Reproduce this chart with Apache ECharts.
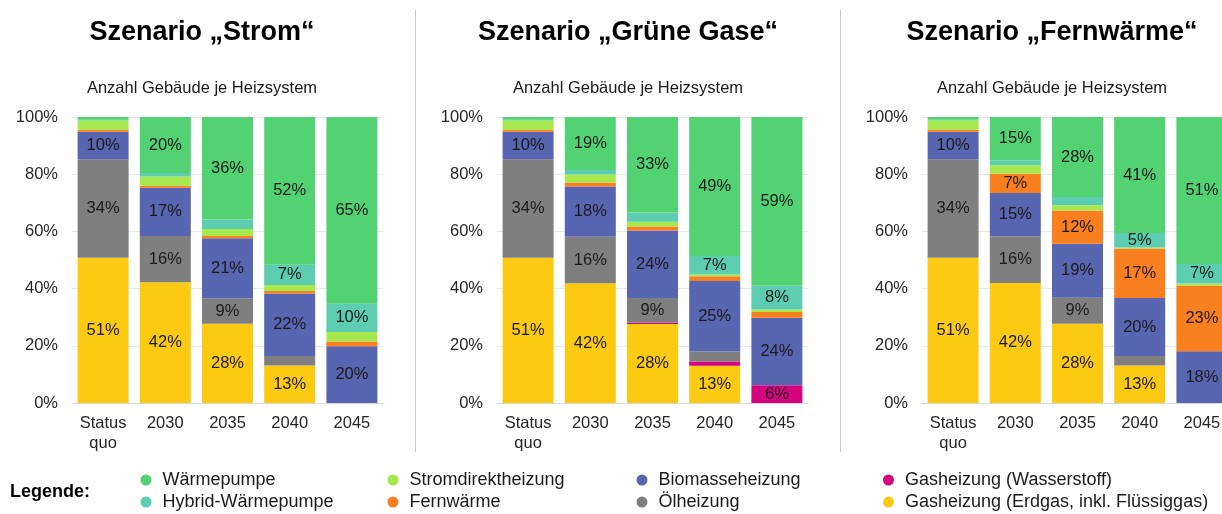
<!DOCTYPE html>
<html>
<head>
<meta charset="utf-8">
<script src="https://cdn.jsdelivr.net/npm/echarts@6/dist/echarts.min.js"></script>
<style>
html,body{margin:0;padding:0;background:#fff;}
#chart{width:1222px;height:514px;}
</style>
</head>
<body>
<div id="chart"></div>
<script>
// ---- data ----
const categories = ['Status\nquo', '2030', '2035', '2040', '2045'];
const yTicks = [0, 20, 40, 60, 80, 100];
const scenarioTitles = ['Szenario \u201EStrom\u201C', 'Szenario \u201EGr\u00FCne Gase\u201C', 'Szenario \u201EFernw\u00E4rme\u201C'];
const subTitle = 'Anzahl Geb\u00E4ude je Heizsystem';
// stack order bottom -> top
const seriesNames = ['Gasheizung (Erdgas, inkl. Fl\u00FCssiggas)', 'Gasheizung (Wasserstoff)', '\u00D6lheizung', 'Biomasseheizung', 'Fernw\u00E4rme', 'Stromdirektheizung', 'Hybrid-W\u00E4rmepumpe', 'W\u00E4rmepumpe'];

// Szenario Strom
const strom_gasErdgas     = [50.8, 42.2, 27.7, 13.1, 0];
const strom_gasH2         = [0, 0, 0, 0, 0];
const strom_oel           = [34.4, 16.2, 8.8, 3.3, 0];
const strom_biomasse      = [9.6, 16.9, 21.1, 21.9, 19.8];
const strom_fernwaerme    = [0.7, 0.7, 0.8, 0.9, 1.7];
const strom_stromdirekt   = [3.3, 3.2, 2.4, 2.1, 3.3];
const strom_hybrid        = [0.2, 1.2, 3.4, 7.0, 9.9];
const strom_waermepumpe   = [1.0, 19.6, 35.8, 51.7, 65.3];

// Szenario Grüne Gase
const gruen_gasErdgas     = [50.8, 41.9, 27.6, 13.0, 0];
const gruen_gasH2         = [0, 0, 0.5, 1.5, 6.2];
const gruen_oel           = [34.4, 16.2, 8.6, 3.5, 0];
const gruen_biomasse      = [9.6, 17.6, 23.6, 24.7, 23.6];
const gruen_fernwaerme    = [0.7, 1.4, 1.4, 1.6, 2.0];
const gruen_stromdirekt   = [3.3, 2.8, 1.7, 0.6, 0.9];
const gruen_hybrid        = [0.2, 1.6, 3.2, 6.5, 8.3];
const gruen_waermepumpe   = [1.0, 18.5, 33.4, 48.6, 59.0];

// Szenario Fernwärme
const fern_gasErdgas      = [50.8, 42.0, 27.7, 13.1, 0];
const fern_gasH2          = [0, 0, 0, 0, 0];
const fern_oel            = [34.4, 16.3, 9.1, 3.3, 0];
const fern_biomasse       = [9.6, 15.1, 18.9, 20.3, 18.1];
const fern_fernwaerme     = [0.7, 6.8, 11.6, 17.3, 23.0];
const fern_stromdirekt    = [3.3, 2.9, 1.8, 0.4, 0.7];
const fern_hybrid         = [0.2, 1.7, 2.9, 5.0, 6.8];
const fern_waermepumpe    = [1.0, 15.2, 28.0, 40.6, 51.4];

const scenarios = [
  [strom_gasErdgas, strom_gasH2, strom_oel, strom_biomasse, strom_fernwaerme, strom_stromdirekt, strom_hybrid, strom_waermepumpe],
  [gruen_gasErdgas, gruen_gasH2, gruen_oel, gruen_biomasse, gruen_fernwaerme, gruen_stromdirekt, gruen_hybrid, gruen_waermepumpe],
  [fern_gasErdgas, fern_gasH2, fern_oel, fern_biomasse, fern_fernwaerme, fern_stromdirekt, fern_hybrid, fern_waermepumpe]
];

// ---- styling ----
const colors = ['#fdca13', '#d6037f', '#7f7f7f', '#5865b0', '#fa7f1e', '#a7e84c', '#5ccdb0', '#52d273'];
const FONT = "'Liberation Sans', Arial, sans-serif";
const gridLefts = [72, 497, 922];
const centers = [202, 628, 1052];

const grids = gridLefts.map(l => ({left: l, top: 117, width: 311, height: 286, containLabel: false, outerBoundsMode: 'none'}));
const xAxes = gridLefts.map((l, i) => ({
  type: 'category', gridIndex: i, data: categories,
  axisTick: {show: false},
  axisLine: {show: true, lineStyle: {color: '#d9d9d9', width: 1}},
  axisLabel: {fontFamily: FONT, fontSize: 16.5, color: '#262626', margin: 10, lineHeight: 20, interval: 0}
}));
const yAxes = gridLefts.map((l, i) => ({
  type: 'value', gridIndex: i, min: yTicks[0], max: yTicks[yTicks.length - 1], interval: 20,
  axisLine: {show: false}, axisTick: {show: false},
  splitLine: {lineStyle: {color: '#e8e8e8', width: 1}},
  axisLabel: {fontFamily: FONT, fontSize: 16.5, color: '#262626', margin: 14, formatter: '{value}%'}
}));

const series = [];
scenarios.forEach((sc, gi) => {
  sc.forEach((vals, si) => {
    series.push({
      type: 'bar', name: seriesNames[si], stack: 'p' + gi,
      xAxisIndex: gi, yAxisIndex: gi,
      barCategoryGap: '18%',
      data: vals,
      itemStyle: {color: colors[si]},
      label: {
        show: true, position: 'inside', fontFamily: FONT, fontSize: 16.5, color: '#1a1a1a',
        formatter: p => p.value >= 4.5 ? Math.round(p.value) + '%' : ''
      },
      emphasis: {disabled: true}
    });
  });
});

// legend: 4 columns x 2 rows, one legend component per item
const legendItems = [
  {name: 'W\u00E4rmepumpe', left: 140.5, row: 0},
  {name: 'Hybrid-W\u00E4rmepumpe', left: 140.5, row: 1},
  {name: 'Stromdirektheizung', left: 387.5, row: 0},
  {name: 'Fernw\u00E4rme', left: 387.5, row: 1},
  {name: 'Biomasseheizung', left: 636.5, row: 0},
  {name: '\u00D6lheizung', left: 636.5, row: 1},
  {name: 'Gasheizung (Wasserstoff)', left: 883, row: 0},
  {name: 'Gasheizung (Erdgas, inkl. Fl\u00FCssiggas)', left: 883, row: 1}
];
const legends = legendItems.map(it => ({
  left: it.left, top: it.row === 0 ? 470 : 492, orient: 'horizontal', data: [it.name], icon: 'circle',
  itemWidth: 23, itemHeight: 11, selectedMode: false, padding: 0,
  textStyle: {fontFamily: FONT, fontSize: 18, color: '#1a1a1a', lineHeight: 20}
}));

const graphics = [];
centers.forEach((cx, i) => {
  graphics.push({type: 'text', x: cx, y: 33, style: {text: scenarioTitles[i], font: "bold 27px " + FONT, fill: '#000', textAlign: 'center', textVerticalAlign: 'middle'}});
  graphics.push({type: 'text', x: cx, y: 88, style: {text: subTitle, font: "16.5px " + FONT, fill: '#1a1a1a', textAlign: 'center', textVerticalAlign: 'middle'}});
});
[415.5, 840.5].forEach(x => {
  graphics.push({type: 'line', shape: {x1: x, y1: 10, x2: x, y2: 452}, style: {stroke: '#c8c8c8', lineWidth: 1}});
});
graphics.push({type: 'text', x: 10, y: 492, style: {text: 'Legende:', font: "bold 18px " + FONT, fill: '#000', textAlign: 'left', textVerticalAlign: 'middle'}});

const chart = echarts.init(document.getElementById('chart'), null, {renderer: 'canvas'});
chart.setOption({
  animation: false,
  backgroundColor: '#fff',
  grid: grids, xAxis: xAxes, yAxis: yAxes,
  legend: legends,
  series: series,
  graphic: graphics
});
</script>
</body>
</html>
